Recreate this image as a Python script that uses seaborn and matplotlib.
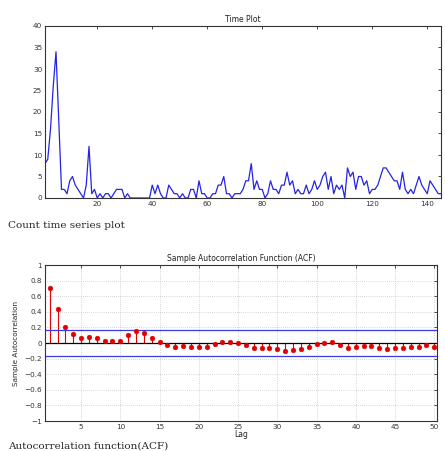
import numpy as np
import pandas as pd
import matplotlib
matplotlib.use("Agg")
import matplotlib.pyplot as plt
import seaborn as sns

# ---- data ----
counts = [8, 9, 16, 26, 34, 18, 2, 2, 1, 4, 5, 3, 2, 1, 0, 3, 12, 1, 2, 0,
          1, 0, 1, 1, 0, 1, 2, 2, 2, 0, 1, 0, 0, 0, 0, 0, 0, 0, 0, 3,
          1, 3, 1, 0, 0, 3, 2, 1, 1, 0, 1, 0, 0, 2, 2, 0, 4, 1, 1, 0,
          0, 1, 1, 3, 3, 5, 1, 1, 0, 1, 1, 1, 2, 4, 4, 8, 2, 4, 2, 2,
          0, 1, 4, 2, 2, 1, 3, 3, 6, 3, 4, 1, 2, 1, 1, 3, 1, 2, 4, 2,
          3, 5, 6, 2, 5, 1, 3, 2, 3, 0, 7, 5, 6, 2, 5, 5, 3, 4, 1, 2,
          2, 3, 5, 7, 7, 6, 5, 4, 4, 2, 6, 2, 1, 2, 1, 3, 5, 3, 2, 1,
          4, 3, 2, 1, 1]
acf_vals = [0.71, 0.44, 0.20, 0.11, 0.07, 0.08, 0.06, 0.03, 0.02, 0.02,
            0.10, 0.16, 0.13, 0.06, 0.01, -0.02, -0.05, -0.04, -0.05, -0.05,
            -0.05, -0.01, 0.01, 0.01, 0.00, -0.02, -0.06, -0.07, -0.06, -0.08,
            -0.10, -0.09, -0.08, -0.05, -0.01, 0.00, 0.01, -0.02, -0.06, -0.05,
            -0.04, -0.04, -0.06, -0.08, -0.07, -0.07, -0.05, -0.05, -0.03, -0.05]
conf_bound = 0.166
ts_xticks = [20, 40, 60, 80, 100, 120, 140]
ts_yticks = [0, 5, 10, 15, 20, 25, 30, 35, 40]
acf_xticks = [5, 10, 15, 20, 25, 30, 35, 40, 45, 50]
acf_yticks = [-1, -0.8, -0.6, -0.4, -0.2, 0, 0.2, 0.4, 0.6, 0.8, 1]

sns.set_theme(style="white")
plt.rcParams['font.family'] = ['DejaVu Sans']

W, H = 445, 451
fig = plt.figure(figsize=(W / 100, H / 100), dpi=100)

def ax_rect(l, t, r, b):
    return [l / W, 1 - b / H, (r - l) / W, (b - t) / H]

tick_fs = 5.2
# ---- time plot ----
ax1 = fig.add_axes(ax_rect(45, 26, 441, 198))
df = pd.DataFrame({"t": np.arange(1, len(counts) + 1), "count": counts})
sns.lineplot(data=df, x="t", y="count", ax=ax1, color="#2424e6", linewidth=0.9)
ax1.set_xlim(1, len(counts))
ax1.set_ylim(0, 40)
ax1.set_xticks(ts_xticks)
ax1.set_yticks(ts_yticks)
ax1.set_xlabel("")
ax1.set_ylabel("")
ax1.set_title("Time Plot", fontsize=5.5, pad=3, color="#222222")
ax1.tick_params(direction="in", length=2.5, width=0.6, labelsize=tick_fs,
                top=True, right=True, colors="#333333", pad=2)
for s in ax1.spines.values():
    s.set_linewidth(0.8)
    s.set_color("#333333")

fig.text(8 / W, 1 - 226 / H, "Count time series plot", family="DejaVu Serif",
         fontsize=7.5, va="center", ha="left")

# ---- ACF ----
ax2 = fig.add_axes(ax_rect(45, 265, 437, 421))
lags = np.arange(1, len(acf_vals) + 1)
adf = pd.DataFrame({"lag": lags, "acf": acf_vals})
ax2.vlines(adf["lag"], 0, adf["acf"], color="#e00000", linewidth=0.8)
sns.scatterplot(data=adf, x="lag", y="acf", ax=ax2, color="#e00000", s=12,
                edgecolor="#e00000", linewidth=0.3, zorder=3)
ax2.axhline(0, color="black", linewidth=0.9)
ax2.axhline(conf_bound, color="#3a3aee", linewidth=0.9)
ax2.axhline(-conf_bound, color="#3a3aee", linewidth=0.9)
ax2.set_xlim(0.4, 50.35)
ax2.set_ylim(-1, 1)
ax2.set_xticks(acf_xticks)
ax2.set_yticks(acf_yticks)
ax2.set_yticklabels(["\u22121", "\u22120.8", "\u22120.6", "\u22120.4", "\u22120.2", "0",
                     "0.2", "0.4", "0.6", "0.8", "1"])
ax2.grid(True, linestyle=(0, (1, 2)), color="#b0b0b0", linewidth=0.5)
ax2.set_title("Sample Autocorrelation Function (ACF)", fontsize=5.5, pad=3, color="#222222")
ax2.set_xlabel("Lag", fontsize=5.5, labelpad=0.5)
ax2.set_ylabel("Sample Autocorrelation", fontsize=5.2, labelpad=4)
ax2.tick_params(direction="in", length=2.5, width=0.6, labelsize=tick_fs,
                top=True, right=True, colors="#333333", pad=2)
for s in ax2.spines.values():
    s.set_linewidth(0.8)
    s.set_color("#333333")

fig.text(8 / W, 1 - 446 / H, "Autocorrelation function(ACF)", family="DejaVu Serif",
         fontsize=7.5, va="center", ha="left")

fig.savefig("out.png", dpi=100)
